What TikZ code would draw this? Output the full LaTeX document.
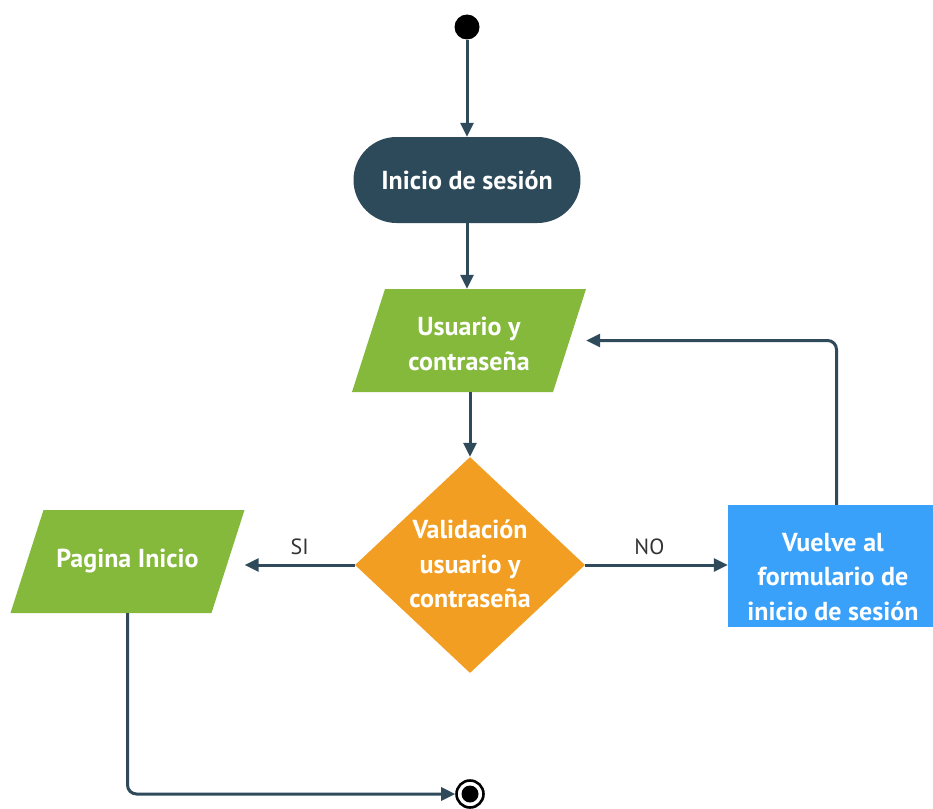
\documentclass[tikz,border=0pt]{standalone}
\usepackage{fontspec}
\setmainfont{PT Sans}
\usetikzlibrary{arrows.meta,shapes.geometric,calc}
\definecolor{darkblue}{HTML}{2D4A5A}
\definecolor{linecol}{HTML}{2F4B5B}
\definecolor{greenbox}{HTML}{84B93C}
\definecolor{orangebox}{HTML}{F29E22}
\definecolor{bluebox}{HTML}{3AA1FA}
\definecolor{labelgray}{HTML}{333333}
\begin{document}
\begin{tikzpicture}[x=1pt,y=-1pt,
  conn/.style={draw=linecol, line width=3pt, -{Triangle[length=14pt,width=13pt]}},
  lbl/.style={font=\fontsize{26}{34.5}\selectfont\bfseries, text=white, align=center},
  edgelbl/.style={font=\fontsize{22}{26}\selectfont, text=labelgray},
  para/.style={rectangle, inner sep=0pt, minimum width=234pt, minimum height=103pt,
    path picture={\fill[#1] ([xshift=33pt]path picture bounding box.north west)
      -- (path picture bounding box.north east)
      -- ([xshift=-33pt]path picture bounding box.south east)
      -- (path picture bounding box.south west) -- cycle;}},
  termbox/.style={rectangle, fill=darkblue, rounded corners=43pt, minimum width=227pt, minimum height=86pt, inner sep=0pt},
  decbox/.style={diamond, fill=orangebox, minimum width=230pt, minimum height=216pt, inner sep=0pt},
  procbox/.style={rectangle, fill=bluebox, minimum width=205pt, minimum height=122pt, inner sep=0pt},
  startdot/.style={circle, fill=black, minimum size=25pt, inner sep=0pt},
  enddot/.style={circle, draw=black, fill=white, line width=2.6pt, minimum size=27pt, inner sep=0pt,
    path picture={\fill[black] (path picture bounding box.center) circle (8.5pt);}}
]
\useasboundingbox (0,0) rectangle (933,808);

\node[startdot] (start) at (467,27) {};
\node[termbox, lbl] (term) at (467,180) {Inicio de sesión};
\node[para=greenbox] (user) at (469,340.5) {};
\node[lbl] (usertxt) at (469,344) {Usuario y\\contraseña};
\node[decbox] (dec) at (470,565) {};
\node[lbl] (dectxt) at (470,564) {Validación\\usuario y\\contraseña};
\node[para=greenbox, lbl] (home) at (127.5,561.5) {Pagina Inicio};
\node[procbox] (back) at (830.5,566) {};
\node[lbl] (backtxt) at (833,577) {Vuelve al\\formulario de\\inicio de sesión};
\node[enddot] (end) at (470,794) {};

\draw[conn] (start) -- (start |- term.north);
\draw[conn] (term) -- (term |- user.north);
\draw[conn] (user.south -| dec.north) -- (dec.north);
\draw[conn] (dec.west) -- (dec.west -| home.east)
  node[edgelbl, pos=0.5, above=5pt] (si) {SI};
\draw[conn] (dec.east) -- (dec.east -| back.west)
  node[edgelbl, pos=0.45, above=5pt] (no) {NO};
\draw[conn, rounded corners=9pt] ([xshift=6pt]back.north) |- (user.east);
\draw[conn, rounded corners=9pt] (home.south) |- (end.west);
\end{tikzpicture}
\end{document}
